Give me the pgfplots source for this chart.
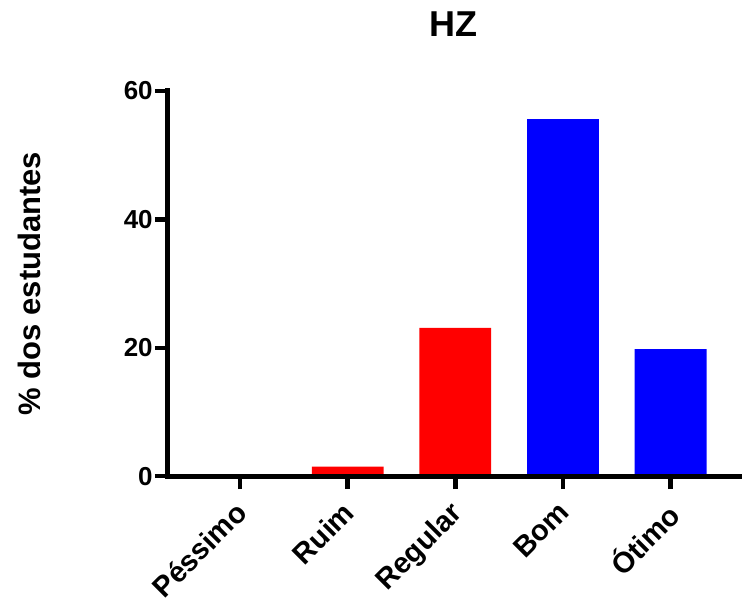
\documentclass[border=0pt]{standalone}
\usepackage{pgfplots}
\pgfplotsset{compat=1.18}
\usepackage{fontspec}
\setmainfont{Liberation Sans}
\definecolor{barred}{RGB}{255,0,0}
\definecolor{barblue}{RGB}{0,0,255}
\begin{document}
\begin{tikzpicture}
\begin{axis}[
  scale only axis,
  width=572pt, height=385.5pt,
  xmin=-0.67, xmax=4.64,
  ymin=0, ymax=60,
  axis lines*=left,
  axis on top,
  axis line style={line width=5pt, line cap=rect},
  ytick={0,20,40,60},
  xtick={0,1,2,3,4},
  xticklabels={Péssimo,Ruim,Regular,Bom,Ótimo},
  tick align=outside,
  major tick length=13pt,
  tick style={line width=4.5pt, black},
  /pgf/number format/assume math mode=true,
  yticklabel style={font=\fontsize{26}{30}\selectfont\bfseries, inner sep=2pt},
  xticklabel style={font=\fontsize{29}{34}\selectfont\bfseries, rotate=45, anchor=north east, inner sep=3pt, xshift=-9pt, yshift=0pt},
  ylabel={\% dos estudantes},
  ylabel style={font=\fontsize{31}{36}\selectfont\bfseries, at={(axis description cs:-0.243,0.5)}, anchor=center, rotate=0},
  title={HZ},
  title style={font=\fontsize{36}{42}\selectfont\bfseries, at={(axis description cs:0.5,1)}, anchor=base, yshift=48pt},
  bar width=0.667,
  ybar, bar shift=0pt,
  clip=false,
]
\addplot[fill=barred, draw=none] coordinates {(0,0) (1,1.5) (2,23.1)};
\addplot[fill=barblue, draw=none] coordinates {(3,55.6) (4,19.8)};
\end{axis}
\path[use as bounding box] (-168pt,-121.5pt) rectangle (574pt,476.5pt);
\end{tikzpicture}
\end{document}
